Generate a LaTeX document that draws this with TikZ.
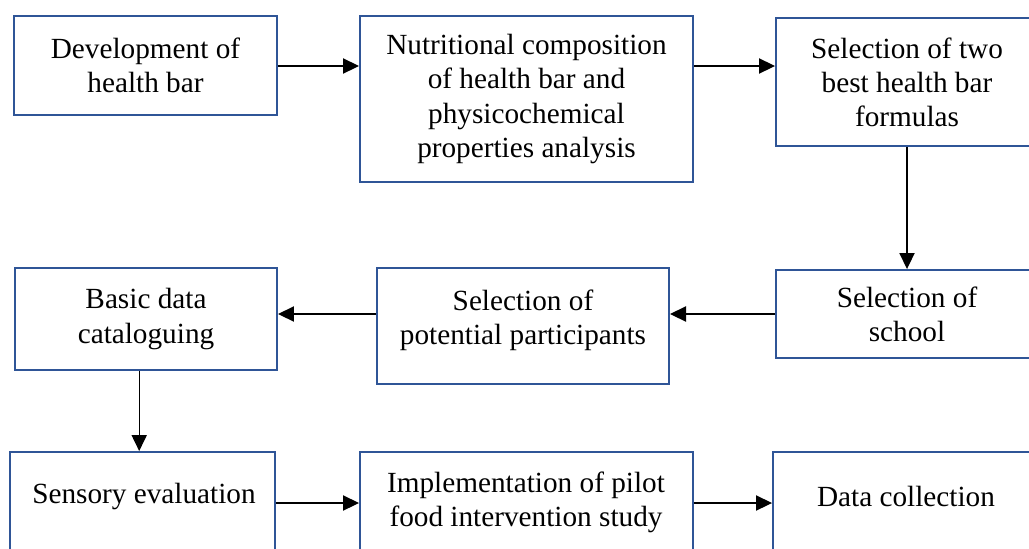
\documentclass[tikz,border=0pt]{standalone}
\usepackage{fontspec}
\setmainfont{Liberation Serif}
\usepackage{tikz}
\usetikzlibrary{arrows.meta}
\definecolor{boxblue}{RGB}{47,85,151}
\tikzset{stepbox/.style={draw=boxblue,line width=1.4pt,inner sep=0pt,align=center,font=\fontsize{20.8}{24.2}\selectfont}}
\tikzset{steptext/.style={inner sep=0pt,align=center,font=\fontsize{20.8}{24.2}\selectfont}}
\tikzset{flow/.style={draw=black,line width=0.9pt,-{Triangle[length=0.4cm,width=0.38cm]}}}

\begin{document}
\begin{tikzpicture}[x=0.025cm,y=-0.025cm]
\useasboundingbox (0,0) rectangle (1029,548);
% first row
\node[stepbox,minimum width=263*0.025cm,minimum height=99*0.025cm] (dev) at (145.5,65.5) {Development of\\health bar};
\node[stepbox,minimum width=333*0.025cm,minimum height=166*0.025cm] (nutri) at (526.5,99) {Nutritional composition\\of health bar and\\physicochemical\\properties analysis};
\node[stepbox,minimum width=262*0.025cm,minimum height=128*0.025cm] (best) at (907,82) {Selection of two\\best health bar\\formulas};
% second row
\node[stepbox,minimum width=262*0.025cm,minimum height=88*0.025cm] (school) at (907,314) {Selection of\\school};
\node[stepbox,minimum width=292*0.025cm,minimum height=116*0.025cm,text depth=0.45cm] (partic) at (523,326) {Selection of\\potential participants};
\node[stepbox,minimum width=262*0.025cm,minimum height=102*0.025cm] (catal) at (146,319) {Basic data\\cataloguing};
% third row
\node[stepbox,minimum width=265*0.025cm,minimum height=113*0.025cm] (sens) at (142.5,508.5) {};
\node[stepbox,minimum width=333*0.025cm,minimum height=113*0.025cm] (pilot) at (526.5,508.5) {};
\node[stepbox,minimum width=265*0.025cm,minimum height=113*0.025cm] (data) at (905.5,508.5) {};
\node[steptext] (senstxt) at (144,496) {Sensory evaluation};
\node[steptext] (pilottxt) at (526,502) {Implementation of pilot\\food intervention study};
\node[steptext] (datatxt) at (906,496) {Data collection};
\coordinate (rowa) at (0,66);
\coordinate (rowc) at (0,503);

\draw[flow] (dev.east |- rowa) -- (nutri.west |- rowa);
\draw[flow] (nutri.east |- rowa) -- (best.west |- rowa);
\draw[flow] (best.south) -- (school.north);
\draw[flow] (school.west) -- (school.west -| partic.east);
\draw[flow] (school.west -| partic.west) -- (school.west -| catal.east);
\draw[flow] ([xshift=-0.17cm]catal.south) -- ([xshift=-0.17cm]catal.south |- sens.north);
\draw[flow] (sens.east |- rowc) -- (pilot.west |- rowc);
\draw[flow] (pilot.east |- rowc) -- (data.west |- rowc);
\end{tikzpicture}
\end{document}
